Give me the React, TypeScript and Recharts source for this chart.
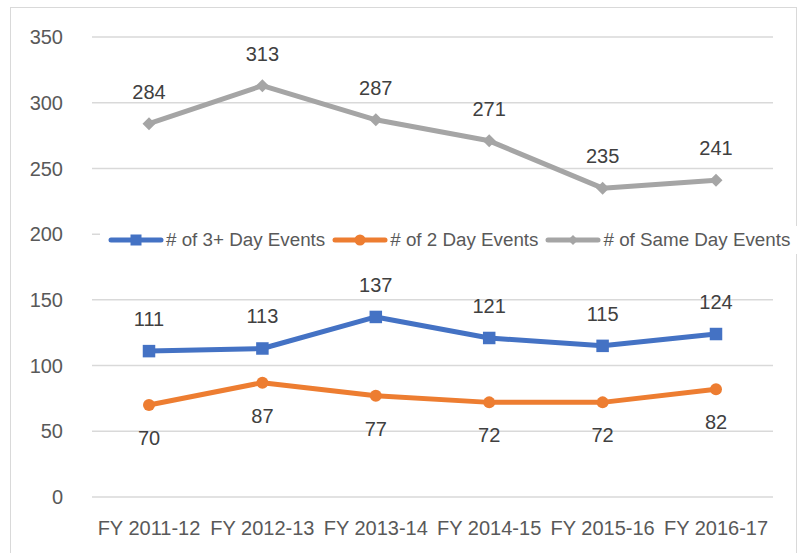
import React from "react";
import { LineChart, Line, XAxis, YAxis, CartesianGrid, LabelList } from "recharts";

const categories = ["FY 2011-12", "FY 2012-13", "FY 2013-14", "FY 2014-15", "FY 2015-16", "FY 2016-17"];
const threePlusDay = [111, 113, 137, 121, 115, 124];
const twoDay = [70, 87, 77, 72, 72, 82];
const sameDay = [284, 313, 287, 271, 235, 241];
const yTicks = [0, 50, 100, 150, 200, 250, 300, 350];

const BLUE = "#4472C4";
const ORANGE = "#ED7D31";
const GRAY = "#A5A5A5";
const FONT = "'Liberation Sans', Arial, sans-serif";

const data = categories.map((name, i) => ({
    name,
    threePlus: threePlusDay[i],
    two: twoDay[i],
    same: sameDay[i],
}));

type Shape = "square" | "circle" | "diamond";

const markerSize: Record<Shape, number> = { square: 12.5, circle: 12, diamond: 13 };

function Marker({ cx, cy, shape, color, size }: { cx: number; cy: number; shape: Shape; color: string; size?: number }) {
    const s = size ?? markerSize[shape];
    const h = s / 2;
    if (shape === "square") return <rect x={cx - h} y={cy - h} width={s} height={s} fill={color} />;
    if (shape === "circle") return <circle cx={cx} cy={cy} r={h} fill={color} />;
    return <polygon points={`${cx},${cy - h} ${cx + h},${cy} ${cx},${cy + h} ${cx - h},${cy}`} fill={color} />;
}

const dotFor = (shape: Shape, color: string) => (props: any) => {
    const { cx, cy, index } = props;
    if (cx == null || cy == null) return <g key={`d-${shape}-${index}`} />;
    return (
        <g key={`d-${shape}-${index}`}>
            <Marker cx={cx} cy={cy} shape={shape} color={color} />
        </g>
    );
};

const labelFor = (dy: number) => (props: any) => {
    const { x, y, value, index } = props;
    return (
        <text
            key={`l-${dy}-${index}`}
            x={x}
            y={y + dy}
            textAnchor="middle"
            dominantBaseline="central"
            fontFamily={FONT}
            fontSize={20}
            fill="#404040"
        >
            {value}
        </text>
    );
};

const legendItems: { label: string; color: string; shape: Shape }[] = [
    { label: "# of 3+ Day Events", color: BLUE, shape: "square" },
    { label: "# of 2 Day Events", color: ORANGE, shape: "circle" },
    { label: "# of Same Day Events", color: GRAY, shape: "diamond" },
];

function LegendBox() {
    return (
        <div style={{ display: "flex", alignItems: "center", background: "#fff", paddingLeft: 8, height: 28 }}>
            {legendItems.map((it) => (
                <div key={it.label} style={{ display: "flex", alignItems: "center", marginRight: 7 }}>
                    <svg width={56} height={14} style={{ marginRight: 2 }}>
                        <line x1={3} y1={7} x2={53} y2={7} stroke={it.color} strokeWidth={5} strokeLinecap="round" />
                        <Marker cx={28} cy={7} shape={it.shape} color={it.color} size={it.shape === "diamond" ? 10 : 11} />
                    </svg>
                    <span style={{ fontFamily: FONT, fontSize: 18.8, color: "#595959", whiteSpace: "nowrap" }}>{it.label}</span>
                </div>
            ))}
        </div>
    );
}

export default function App() {
    return (
        <div style={{ position: "absolute", left: 0, top: 0, width: 802, height: 553, overflow: "hidden", background: "#fff" }}>
            <div
                style={{
                    position: "absolute",
                    left: 10,
                    top: 7,
                    width: 787,
                    height: 560,
                    border: "1.5px solid #D9D9D9",
                    boxSizing: "border-box",
                }}
            />
            <div style={{ position: "absolute", left: 0, top: 0 }}>
                <LineChart width={802} height={553} data={data} margin={{ top: 37, right: 29, bottom: 26, left: 0 }}>
                    <CartesianGrid vertical={false} stroke="#D9D9D9" strokeWidth={1.5} />
                    <XAxis
                        dataKey="name"
                        axisLine={false}
                        tickLine={false}
                        tickSize={0}
                        tickMargin={24}
                        interval={0}
                        padding={{ left: 57, right: 57 }}
                        tick={{ fontFamily: FONT, fontSize: 20, fill: "#595959" }}
                    />
                    <YAxis
                        width={92}
                        domain={[0, 350]}
                        ticks={yTicks}
                        axisLine={false}
                        tickLine={false}
                        tickSize={0}
                        tickMargin={29}
                        tick={{ fontFamily: FONT, fontSize: 20, fill: "#595959" }}
                    />
                    <Line
                        dataKey="threePlus"
                        name="# of 3+ Day Events"
                        stroke={BLUE}
                        strokeWidth={5}
                        strokeLinejoin="round"
                        dot={dotFor("square", BLUE)}
                        activeDot={false}
                        isAnimationActive={false}
                    >
                        <LabelList dataKey="threePlus" content={labelFor(-32)} />
                    </Line>
                    <Line
                        dataKey="two"
                        name="# of 2 Day Events"
                        stroke={ORANGE}
                        strokeWidth={5}
                        strokeLinejoin="round"
                        dot={dotFor("circle", ORANGE)}
                        activeDot={false}
                        isAnimationActive={false}
                    >
                        <LabelList dataKey="two" content={labelFor(33)} />
                    </Line>
                    <Line
                        dataKey="same"
                        name="# of Same Day Events"
                        stroke={GRAY}
                        strokeWidth={5}
                        strokeLinejoin="round"
                        dot={dotFor("diamond", GRAY)}
                        activeDot={false}
                        isAnimationActive={false}
                    >
                        <LabelList dataKey="same" content={labelFor(-32)} />
                    </Line>
                </LineChart>
            </div>
            <div style={{ position: "absolute", left: 100, top: 226 }}>
                <LegendBox />
            </div>
        </div>
    );
}
